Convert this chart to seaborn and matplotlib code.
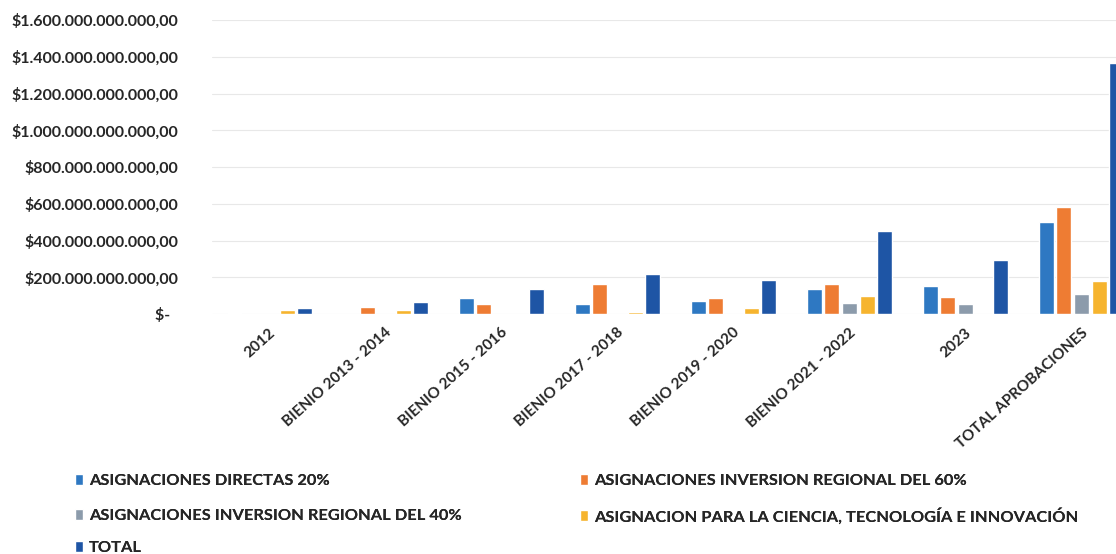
import pandas as pd
import matplotlib
matplotlib.use('Agg')
import matplotlib.pyplot as plt
import matplotlib.transforms as mtransforms
from matplotlib.ticker import FuncFormatter, MultipleLocator
import seaborn as sns

# categorias del eje x
categorias = ["2012", "BIENIO 2013 - 2014", "BIENIO 2015 - 2016", "BIENIO 2017 - 2018",
              "BIENIO 2019 - 2020", "BIENIO 2021 - 2022", "2023", "TOTAL APROBACIONES"]

# valores en miles de millones de pesos
directas_20 = [8, 0, 86, 52, 71, 135, 155, 499]
inversion_60 = [0, 37, 54, 162, 85, 162, 91, 581]
inversion_40 = [0, 0, 0, 0, 0, 58, 53, 108]
ciencia = [22, 20, 0, 10, 35, 100, 0, 177]
total = [33, 66, 135, 218, 183, 454, 295, 1365]

series = ["ASIGNACIONES DIRECTAS 20%",
          "ASIGNACIONES INVERSION REGIONAL DEL 60%",
          "ASIGNACIONES INVERSION REGIONAL DEL 40%",
          "ASIGNACION PARA LA CIENCIA, TECNOLOGÍA E INNOVACIÓN",
          "TOTAL"]
colores = ["#2E78C2", "#EE7C33", "#8C9BAB", "#F6B42E", "#1E55A5"]

# posicion de cada entrada de la leyenda (px desde la izquierda, px desde arriba)
leyenda_pos = [(75, 481), (580, 481), (75, 516), (580, 516), (75, 548)]


def main():
    valores = [directas_20, inversion_60, inversion_40, ciencia, total]
    rows = []
    for serie, vals in zip(series, valores):
        for cat, v in zip(categorias, vals):
            rows.append({'categoria': cat, 'serie': serie, 'valor': v * 1e9})
    df = pd.DataFrame(rows)

    sns.set_style('white')
    plt.rcParams['font.family'] = ['Lato', 'DejaVu Sans']

    fig = plt.figure(figsize=(11.16, 5.54), dpi=100)
    ax = fig.add_axes([211.5 / 1116, 240 / 554, 928 / 1116, 294 / 554])

    sns.barplot(data=df, x='categoria', y='valor', hue='serie',
                order=categorias, hue_order=series,
                palette=dict(zip(series, colores)), saturation=1,
                width=0.763, gap=0.15, errorbar=None, ax=ax)

    ax.set_xlim(-0.5, 7.5)
    ax.set_ylim(0, 1.6e12)
    ax.yaxis.set_major_locator(MultipleLocator(2e11))

    def fmt(v, pos):
        if v == 0:
            return "$-  "
        s = f"${v:,.2f}"
        return s.replace(',', '#').replace('.', ',').replace('#', '.')

    ax.yaxis.set_major_formatter(FuncFormatter(fmt))
    ax.grid(axis='y', color='#e8e8e8', linewidth=0.8)
    ax.set_axisbelow(True)
    for s in ax.spines.values():
        s.set_visible(False)
    ax.set_xlabel('')
    ax.set_ylabel('')

    ax.tick_params(axis='y', length=0, pad=24, labelsize=11.5)
    ax.tick_params(axis='x', length=0, pad=12, labelsize=11)
    for lbl in ax.get_yticklabels():
        lbl.set_fontweight('bold')
    offset = mtransforms.ScaledTranslation(3 / 72, 0, fig.dpi_scale_trans)
    for lbl in ax.get_xticklabels():
        lbl.set_fontweight('bold')
        lbl.set_rotation(42)
        lbl.set_ha('right')
        lbl.set_va('center')
        lbl.set_rotation_mode('anchor')
        lbl.set_transform(lbl.get_transform() + offset)

    handles, labels = ax.get_legend_handles_labels()
    ax.get_legend().remove()

    # una leyenda por entrada para colocarlas como en el original
    for h, l, (px, py) in zip(handles, labels, leyenda_pos):
        leg = fig.legend([h], [l], loc='center left',
                         bbox_to_anchor=(px / 1116, 1 - py / 554),
                         frameon=False, handlelength=0.5, handleheight=0.65,
                         handletextpad=0.35, borderaxespad=0, borderpad=0,
                         prop={'weight': 'bold', 'size': 11.8})
        fig.add_artist(leg)

    plt.savefig('out.png', dpi=100)


if __name__ == "__main__":
    main()
